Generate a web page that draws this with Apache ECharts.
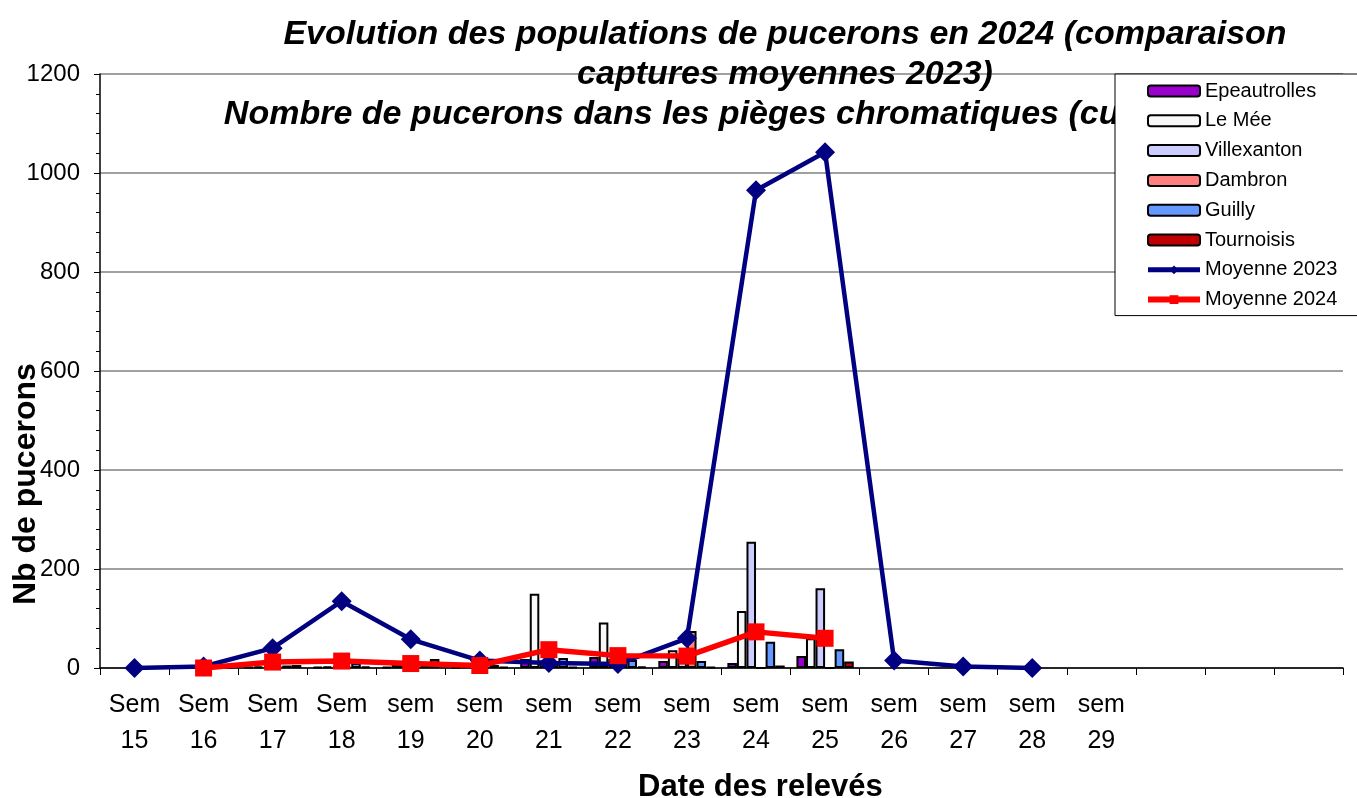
<!DOCTYPE html>
<html>
<head>
<meta charset="utf-8">
<script src="https://cdn.jsdelivr.net/npm/echarts@6/dist/echarts.min.js"></script>
<style>
  html, body { margin: 0; padding: 0; background: #fff; }
  #chart { width: 1357px; height: 798px; }
</style>
</head>
<body>
<div id="chart"></div>
<script>
// === DATA ===
const weeks = ['Sem\n15', 'Sem\n16', 'Sem\n17', 'Sem\n18', 'sem\n19', 'sem\n20', 'sem\n21', 'sem\n22',
  'sem\n23', 'sem\n24', 'sem\n25', 'sem\n26', 'sem\n27', 'sem\n28', 'sem\n29', '', '', ''];

const epeautrolles = [null, 0, 2, 2, 2, 2, 18, 22, 14, 10, 24];
const leMee        = [null, 0, 3, 3, 6, 4, 150, 92, 36, 115, 60];
const villexanton  = [null, 0, 4, 4, 5, 3, 15, 18, 22, 255, 161];
const dambron      = [null, 0, 3, 3, 4, 2, 12, 20, 75, 0, 0];
const guilly       = [null, 0, 5, 10, 8, 6, 20, 16, 14, 53, 38];
const tournoisis   = [null, 0, 6, 3, 18, 2, 2, 3, 2, 5, 13];

const moyenne2023 = [0, 3, 40, 135, 58, 15, 10, 8, 60, 965, 1042, 15, 3, 0];
const moyenne2024 = [null, 0, 12, 14, 9, 5, 37, 25, 24, 73, 60];

const FONT = 'Liberation Sans, Arial, sans-serif';

// === CHART ===
const chart = echarts.init(document.getElementById('chart'));

function barSeries(name, data, color) {
  return {
    name: name,
    type: 'bar',
    data: data,
    barGap: '0%',
    barCategoryGap: '17%',
    itemStyle: { color: color, borderColor: '#000', borderWidth: 2 }
  };
}

chart.setOption({
  backgroundColor: '#fff',
  animation: false,
  textStyle: { fontFamily: FONT },
  title: {
    text: 'Evolution des populations de pucerons en 2024 (comparaison\ncaptures moyennes 2023)\nNombre de pucerons dans les pièges chromatiques (cuvettes jaunes)',
    left: 780,
    top: 10,
    textAlign: 'center',
    z: 1,
    textStyle: {
      fontFamily: FONT, fontSize: 34, fontWeight: 'bold', fontStyle: 'italic',
      color: '#000', lineHeight: 40, align: 'center'
    }
  },
  legend: {
    orient: 'vertical',
    left: 1115,
    top: 74,
    z: 10,
    backgroundColor: '#fff',
    borderColor: '#000',
    borderWidth: 1,
    borderRadius: 0,
    padding: [7, 40, 6, 30],
    itemWidth: 52,
    itemHeight: 11,
    itemGap: 9.8,
    textStyle: { fontFamily: FONT, fontSize: 20, color: '#000' },
    data: [
      'Epeautrolles', 'Le Mée', 'Villexanton', 'Dambron', 'Guilly', 'Tournoisis',
      { name: 'Moyenne 2023', lineStyle: { width: 5 } },
      { name: 'Moyenne 2024', lineStyle: { width: 6 } }
    ]
  },
  grid: { left: 100, right: 14, top: 74, bottom: 130 },
  xAxis: {
    type: 'category',
    data: weeks,
    boundaryGap: true,
    axisLine: { lineStyle: { color: '#000', width: 1.5 } },
    axisTick: { show: true, length: 7, lineStyle: { color: '#000' } },
    axisLabel: { interval: 0, color: '#000', fontFamily: FONT, fontSize: 25, lineHeight: 36, margin: 19 }
  },
  yAxis: {
    type: 'value',
    min: 0,
    max: 1200,
    interval: 200,
    axisLine: { show: true, lineStyle: { color: '#000', width: 1.5 } },
    axisTick: { show: true, length: 6, lineStyle: { color: '#000' } },
    minorTick: { show: true, splitNumber: 5, length: 4, lineStyle: { color: '#000' } },
    splitLine: { lineStyle: { color: '#808080', width: 1.5 } },
    axisLabel: { color: '#000', fontFamily: FONT, fontSize: 24, margin: 20, formatter: v => String(v) }
  },
  graphic: [
    {
      type: 'text',
      left: 638,
      top: 772,
      style: { text: 'Date des relevés', font: 'bold 31px ' + FONT, fill: '#000' }
    },
    {
      type: 'text',
      x: 10,
      y: 605,
      rotation: Math.PI / 2,
      style: { text: 'Nb de pucerons', font: 'bold 32px ' + FONT, fill: '#000', verticalAlign: 'top' }
    }
  ],
  series: [
    barSeries('Epeautrolles', epeautrolles, '#9900CC'),
    barSeries('Le Mée', leMee, '#F8F8F8'),
    barSeries('Villexanton', villexanton, '#CCCCFF'),
    barSeries('Dambron', dambron, '#FF8080'),
    barSeries('Guilly', guilly, '#6699FF'),
    barSeries('Tournoisis', tournoisis, '#C00000'),
    {
      name: 'Moyenne 2023',
      type: 'line',
      data: moyenne2023,
      symbol: 'diamond',
      symbolSize: 20,
      z: 5,
      lineStyle: { color: '#000080', width: 4.5 },
      itemStyle: { color: '#000080' }
    },
    {
      name: 'Moyenne 2024',
      type: 'line',
      data: moyenne2024,
      symbol: 'rect',
      symbolSize: 17,
      z: 6,
      lineStyle: { color: '#FF0000', width: 5.5 },
      itemStyle: { color: '#FF0000' }
    }
  ]
});
</script>
</body>
</html>
